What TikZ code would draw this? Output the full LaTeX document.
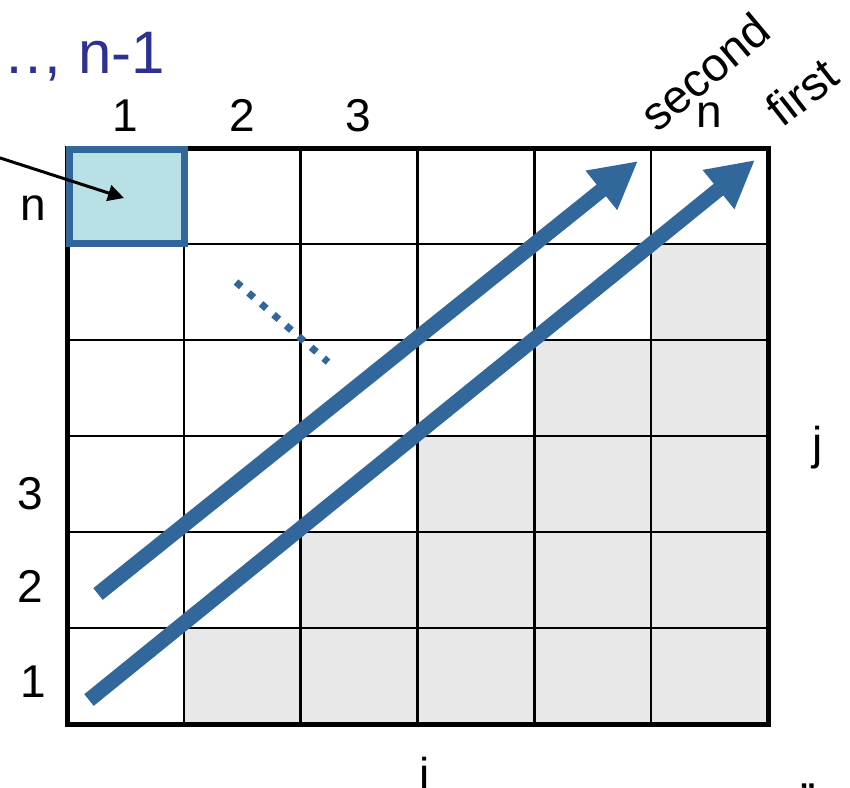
\documentclass[tikz,border=0pt]{standalone}
\usepackage{fontspec}
\setmainfont{Liberation Sans}
\usetikzlibrary{arrows.meta}
\definecolor{arrowblue}{RGB}{50,103,155}
\definecolor{cellblue}{RGB}{185,224,228}
\definecolor{cellgray}{RGB}{232,232,232}
\definecolor{textblue}{RGB}{46,49,146}
\begin{document}
\begin{tikzpicture}[x=1pt,y=-1pt,
  lab/.style={font=\fontsize{46}{50}\selectfont, inner sep=0pt},
  rotlab/.style={font=\fontsize{47}{50}\selectfont, inner sep=0pt},
  gridline/.style={line width=2.5pt, black},
  bigarrow/.style={arrowblue, line width=15pt, -{Triangle[length=47pt,width=47pt]}},
  pointer/.style={black, line width=3pt, -{Triangle[length=16pt,width=16pt]}},
  dotline/.style={arrowblue, line width=7pt, dash pattern=on 7pt off 9.6pt}]
\useasboundingbox (0,0) rectangle (850,787);
% gray staircase
\foreach \r in {1,...,5}
  \fill[cellgray] ({67+116.83*\r},{724-96*\r}) rectangle (768,{724-96*(\r-1)});
% grid
\foreach \k in {1,...,5}{
  \draw[gridline] ({67+116.83*\k},148) -- ({67+116.83*\k},724);
  \draw[gridline] (67,{148+96*\k}) -- (768,{148+96*\k});
}
\draw[line width=5pt] (67,148) rectangle (768,724);
% highlighted cell
\node[draw=arrowblue, fill=cellblue, line width=7pt, minimum width=115pt,
      minimum height=94pt, inner sep=0pt] (cell) at (126.5,196.5) {};
% pointer arrow
\coordinate (src) at (-6,156);
\coordinate (tipc) at (124,198);
\draw[pointer] (src) -- (tipc);
% dotted line
\coordinate (d1) at (236,282);
\coordinate (d2) at (328,362);
\draw[dotline] (d1) -- (d2);
% big arrows
\coordinate (a1s) at (89,700);
\coordinate (a1e) at (755,160);
\coordinate (a2s) at (98,594);
\coordinate (a2e) at (638,161);
\draw[bigarrow] (a1s) -- (a1e);
\draw[bigarrow] (a2s) -- (a2e);
% labels
\node[font=\fontsize{60}{64}\selectfont, text=textblue, anchor=base east, inner sep=0pt] (k) at (165,73) {…, n-1};
\node[lab, anchor=base] (c1) at (125,131) {1};
\node[lab, anchor=base] (c2) at (242,131) {2};
\node[lab, anchor=base] (c3) at (358,131) {3};
\node[lab, anchor=base] (cn) at (709,127) {n};
\node[lab, anchor=base] (rn) at (33,220) {n};
\node[lab, anchor=base] (r3) at (30,509) {3};
\node[lab, anchor=base] (r2) at (30,602) {2};
\node[lab, anchor=base] (r1) at (33,697) {1};
\node[lab] (j) at (818,448) {j};
\node[lab, anchor=base] (i) at (425,790) {i};
\node[lab, anchor=base] (q) at (808,815) {”};
\node[rotlab, rotate=40] (second) at (705,72) {second};
\node[rotlab, rotate=38] (first) at (802,92) {first};
\end{tikzpicture}
\end{document}
